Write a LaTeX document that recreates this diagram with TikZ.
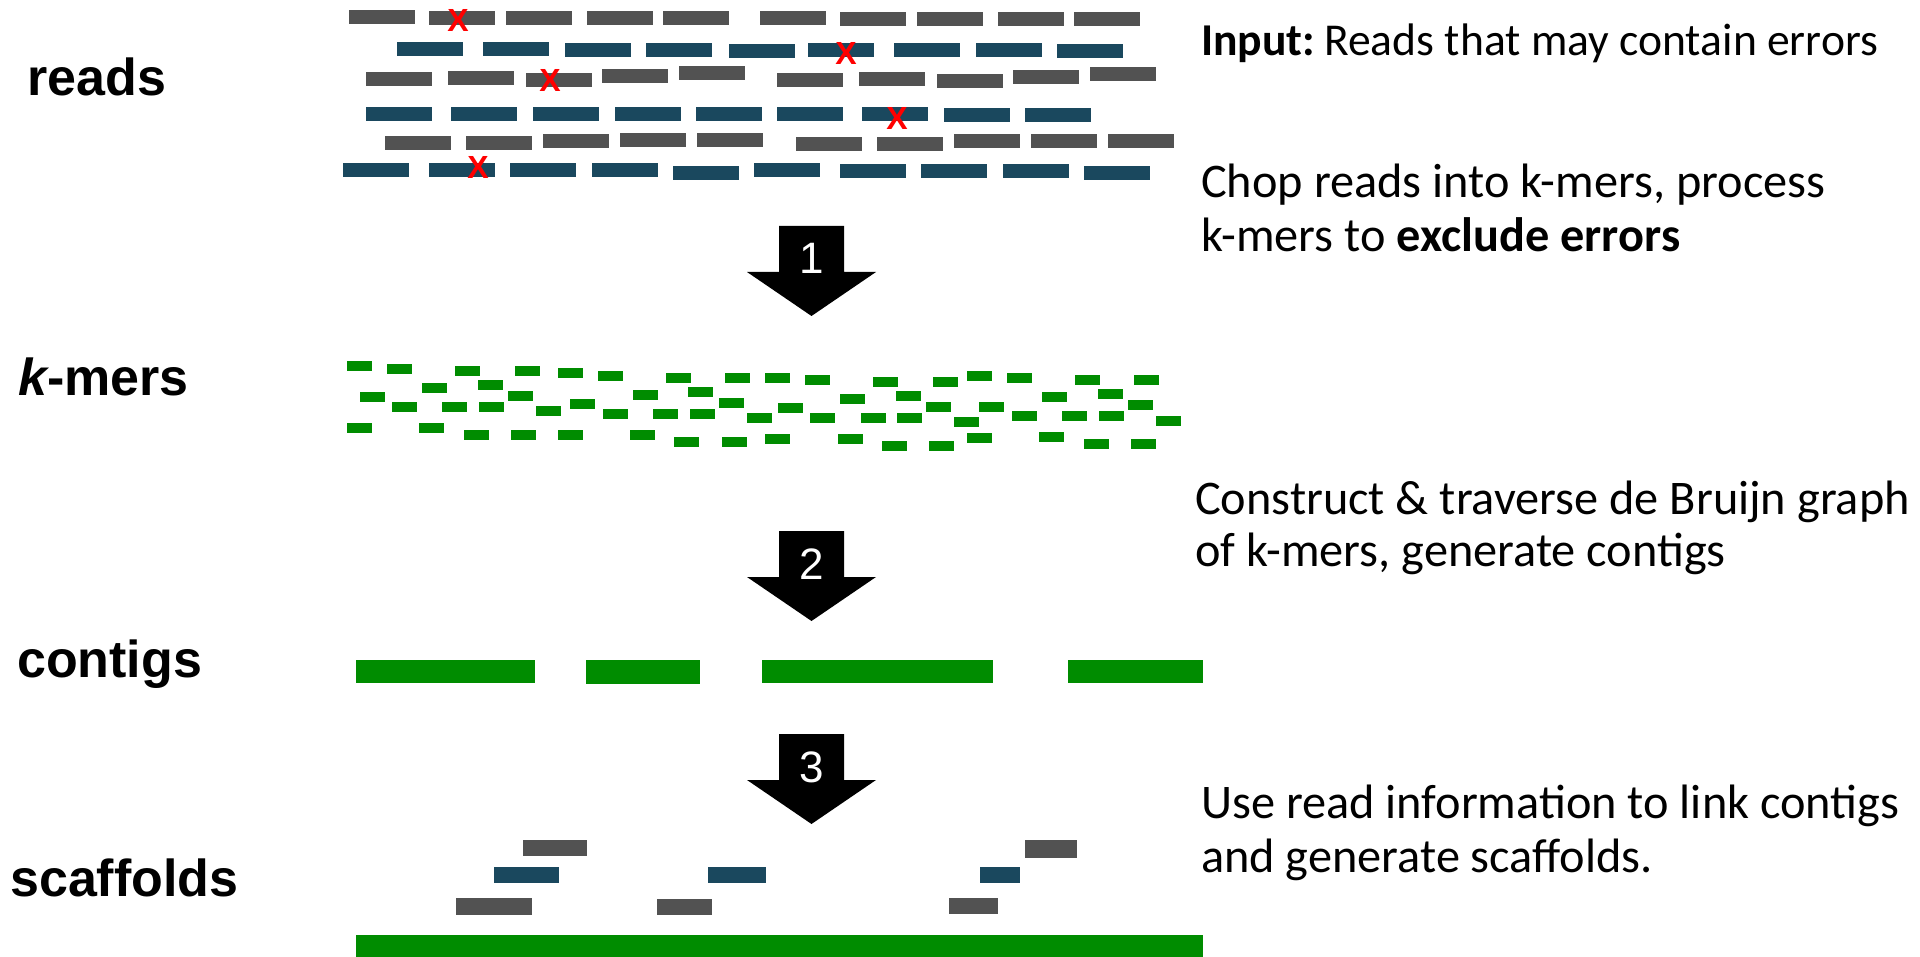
\documentclass[tikz,border=0pt]{standalone}
\usepackage{fontspec}
\setmainfont{Carlito}
\newfontfamily\arialf{Liberation Sans}
\definecolor{rgray}{HTML}{525252}
\definecolor{rblue}{HTML}{1A485E}
\definecolor{kgreen}{HTML}{008C00}
\begin{document}
\begin{tikzpicture}[x=1pt,y=-1pt,
  readg/.style={fill=rgray},
  readb/.style={fill=rblue},
  kmer/.style={fill=kgreen},
  contig/.style={fill=kgreen},
  bigarrow/.style={fill=black},
  stepnum/.style={text=white,font=\arialf\fontsize{44}{44}\selectfont,anchor=base,inner sep=0pt},
  errx/.style={text=red,font=\arialf\bfseries\fontsize{32}{32}\selectfont,inner sep=0pt},
  lab/.style={font=\arialf\bfseries\fontsize{52}{52}\selectfont,anchor=base west,inner sep=0pt},
  desc/.style={font=\fontsize{48.3}{54}\selectfont,anchor=base west,inner sep=0pt}]
\useasboundingbox (0,0) rectangle (1920,957);
% reads
\foreach \x/\y in {349/10,429/11,506/11,587/11,663/11,760/11,840/12,917/12,998/12,1074/12,
  366/72,448/71,526/73,602/69,679/66,777/73,859/72,937/74,1013/70,1090/67,
  385/136,466/136,543/134,620/133,697/133,796/137,877/137,954/134,1031/134,1108/134}
  \fill[readg] (\x,\y) rectangle ++(66,14);
\foreach \x/\y in {397/42,483/42,565/43,646/43,729/44,808/43,894/43,976/43,1057/44,
  366/107,451/107,533/107,615/107,696/107,777/107,862/107,944/108,1025/108,
  343/163,429/163,510/163,592/163,673/166,754/163,840/164,921/164,1003/164,1084/166}
  \fill[readb] (\x,\y) rectangle ++(66,14);
\node[errx] (e1) at (458,20) {X};
\node[errx] (e2) at (846,53) {X};
\node[errx] (e3) at (550,80) {X};
\node[errx] (e4) at (897,118) {X};
\node[errx] (e5) at (478,167) {X};
% k-mers
\foreach \x/\y in {347/361,387/364,455/366,515/366,558/368,598/371,666/373,725/373,765/373,805/375,873/377,933/377,967/371,1007/373,1075/375,1134/375,
  422/383,478/380,360/392,508/391,633/390,688/387,719/398,778/403,840/394,896/391,926/402,979/402,1042/392,1098/389,1128/400,
  392/402,442/402,479/402,570/399,536/406,603/409,653/409,690/409,747/413,810/413,861/413,897/413,954/417,1012/411,1062/411,1099/411,1156/416,
  347/423,419/423,464/430,511/430,558/430,630/430,674/437,722/437,765/434,838/434,882/441,929/441,967/433,1039/432,1084/439,1131/439}
  \fill[kmer] (\x,\y) rectangle ++(25,10);
% contigs
\fill[contig] (356,660) rectangle (535,683);
\fill[contig] (586,660) rectangle (700,684);
\fill[contig] (762,660) rectangle (993,683);
\fill[contig] (1068,660) rectangle (1203,683);
% scaffold
\fill[readg] (523,840) rectangle (587,856);
\fill[readb] (494,867) rectangle (559,883);
\fill[readg] (456,898) rectangle (532,915);
\fill[readb] (708,867) rectangle (766,883);
\fill[readg] (657,899) rectangle (712,915);
\fill[readg] (1025,840) rectangle (1077,858);
\fill[readb] (980,867) rectangle (1020,883);
\fill[readg] (949,898) rectangle (998,914);
\fill[contig] (356,935) rectangle (1203,957);
% arrows
\foreach \T/\n in {226/1,531/2,734/3}{
  \fill[bigarrow] (779,\T) -- (844,\T) -- (844,\T+46) -- (876,\T+46) -- (811.5,\T+90) -- (747,\T+46) -- (779,\T+46) -- cycle;
  \node[stepnum] (n\n) at (811.5,\T+48) {\n};
}
% left labels
\node[lab] (lreads) at (27,96) {reads};
\node[lab] (lkmers) at (18,396) {\itshape k\upshape -mers};
\node[lab] (lcontigs) at (17,677) {contigs};
\node[lab] (lscaff) at (10,896) {scaffolds};
% descriptions
\node[desc,font=\fontsize{45.6}{54}\selectfont] (d1) at (1201,56) {\textbf{Input:}\hspace{0.2em}Reads that may contain errors};
\node[desc] (d2) at (1201,198) {Chop reads into k-mers, process};
\node[desc] (d3) at (1201,252) {k-mers to \textbf{exclude errors}};
\node[desc] (d4) at (1195,514) {Construct \& traverse de Bruijn graph};
\node[desc] (d5) at (1195,566) {of k-mers, generate contigs};
\node[desc] (d6) at (1201,818) {Use read information to link contigs};
\node[desc] (d7) at (1201,872) {and generate scaffolds.};
\end{tikzpicture}
\end{document}
